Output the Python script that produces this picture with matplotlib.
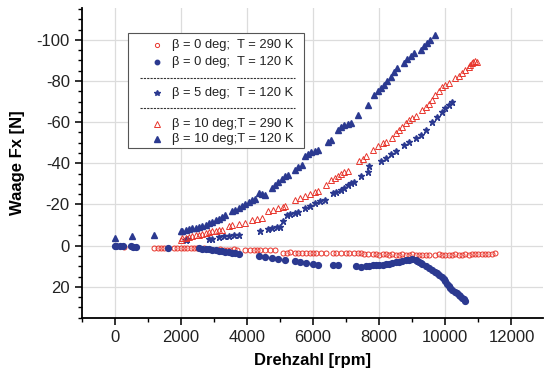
import matplotlib
matplotlib.use("Agg")
import matplotlib.pyplot as plt
from matplotlib.patches import Rectangle
from matplotlib.ticker import MultipleLocator

plt.rcParams['font.family'] = ['Liberation Sans', 'DejaVu Sans']
plt.rcParams['axes.unicode_minus'] = False

# beta = 0 deg, T = 290 K (open red circles)
rpm_b0_290 = [280, 1200, 1300, 1400, 1500, 1800, 1900, 2000, 2100, 2200, 2300, 2400, 2500, 2700,
              3200, 3300, 3400, 3500, 3600, 3700, 3950, 4100, 4200, 4300, 4400, 4550, 4700, 4850,
              5100, 5200, 5300, 5450, 5550, 5650, 5800, 5900, 6000, 6100, 6250, 6400, 6600, 6700,
              6850, 7000, 7100, 7250, 7350, 7450, 7550, 7650, 7800, 7900, 8000, 8100, 8200, 8300,
              8400, 8500, 8600, 8700, 8800, 8900, 9000, 9100, 9200, 9300, 9400, 9500, 9700, 9800,
              9900, 10000, 10100, 10200, 10300, 10400, 10500, 10600, 10700, 10800, 10900, 11000,
              11100, 11200, 11300, 11400, 11500]
fx_b0_290 = [0.5, 1.0, 1.1, 1.0, 1.2, 1.0, 1.1, 1.0, 1.2, 1.1, 1.0, 1.2, 1.1, 1.3,
             1.8, 2.0, 1.9, 2.0, 1.8, 2.1, 2.0, 1.9, 2.1, 2.0, 2.2, 2.0, 2.1, 2.2,
             3.4, 3.5, 3.3, 3.6, 3.5, 3.7, 3.6, 3.5, 3.7, 3.6, 3.8, 3.6, 3.5, 3.7,
             3.6, 3.5, 3.4, 3.6, 3.5, 3.7, 4.0, 4.2, 4.1, 4.2, 4.3, 4.2, 4.1, 4.3,
             4.2, 4.4, 4.3, 4.2, 4.4, 4.3, 4.2, 4.4, 4.3, 4.5, 4.4, 4.3, 4.4, 4.2,
             4.4, 4.3, 4.5, 4.4, 4.2, 4.3, 4.4, 4.2, 4.3, 4.1, 4.2, 4.0,
             4.1, 4.0, 3.9, 4.0, 3.8]

# beta = 0 deg, T = 120 K (filled blue circles)
rpm_b0_120 = [0, 50, 150, 250, 500, 550, 650, 1600, 2550, 2650, 2750, 2850, 2950, 3050, 3150,
              3250, 3350, 3450, 3550, 3650, 3750, 4350, 4550, 4750, 4950, 5150, 5450, 5600, 5800,
              6000, 6150, 6600, 6750, 7300, 7450, 7600, 7700, 7800, 7900, 8000, 8100, 8200, 8300,
              8400, 8500, 8600, 8700, 8800, 8900, 9000, 9100, 9150, 9200, 9250, 9300, 9400, 9500,
              9600, 9700, 9750, 9800, 9900, 9950, 10000, 10050, 10100, 10150, 10200, 10300, 10350,
              10400, 10450, 10500, 10550, 10600]
fx_b0_120 = [0.0, 0.0, 0.2, 0.3, 0.0, 0.5, 0.5, 1.0, 1.2, 1.4, 1.6, 1.8, 2.0, 2.2, 2.4,
             2.6, 2.9, 3.1, 3.4, 3.7, 3.9, 5.2, 5.6, 6.0, 6.4, 6.8, 7.6, 8.0, 8.5,
             8.8, 9.2, 9.2, 9.5, 10.0, 10.2, 10.0, 9.8, 9.6, 9.5, 9.4, 9.3, 9.0, 8.7,
             8.4, 8.1, 7.7, 7.3, 7.0, 6.8, 6.6, 6.9, 7.3, 7.8, 8.3, 8.8, 9.8, 10.7,
             11.8, 13.0, 13.5, 14.2, 15.2, 16.2, 17.4, 18.6, 19.6, 20.5, 21.6, 22.6, 23.2,
             24.0, 24.6, 25.2, 26.0, 26.8]

# beta = 5 deg, T = 120 K (blue stars)
rpm_b5_120 = [2150, 2200, 2850, 2950, 3150, 3300, 3450, 3600, 3750, 4400, 4650, 4750, 4900, 5000,
              5100, 5200, 5300, 5450, 5550, 5750, 5900, 6050, 6200, 6350, 6600, 6700, 6850, 6950,
              7050, 7150, 7250, 7450, 7650, 7700, 8050, 8200, 8350, 8500, 8750, 8900, 9100, 9250,
              9400, 9600, 9750, 9900, 10000, 10100, 10200]
fx_b5_120 = [-2.9, -3.2, -3.2, -3.4, -4.2, -4.5, -4.8, -5.0, -5.3, -7.3, -8.3, -8.6, -8.9, -9.2,
             -11.8, -15.0, -15.5, -16.0, -16.3, -18.3, -19.5, -20.8, -21.5, -22.3, -25.6, -26.2, -27.0, -28.0,
             -29.3, -30.2, -31.0, -33.6, -36.0, -38.5, -41.0, -42.8, -44.5, -46.0, -49.0, -50.6, -52.3, -54.0,
             -56.3, -60.3, -62.5, -65.0, -66.8, -68.5, -70.0]

# beta = 10 deg, T = 290 K (open red triangles)
rpm_b10_290 = [2000, 2050, 2150, 2250, 2350, 2450, 2550, 2650, 2750, 2850, 2950, 3050, 3150, 3250,
               3450, 3550, 3750, 3950, 4150, 4300, 4450, 4650, 4800, 4950, 5100, 5150, 5450, 5600,
               5750, 5900, 6050, 6150, 6400, 6550, 6650, 6750, 6850, 6950, 7050, 7400, 7500, 7600,
               7800, 7950, 8100, 8200, 8400, 8500, 8600, 8700, 8800, 8900, 9000, 9100, 9300, 9400,
               9500, 9600, 9700, 9800, 9900, 10000, 10100, 10300, 10400, 10500, 10600, 10700, 10750,
               10800, 10850, 10900, 10950]
fx_b10_290 = [-2.9, -3.5, -3.9, -4.3, -4.7, -5.0, -5.4, -5.8, -6.2, -6.6, -7.0, -7.3, -7.6, -7.8,
              -9.4, -10.0, -10.6, -11.0, -12.6, -13.0, -13.4, -16.7, -17.5, -18.3, -19.0, -19.3, -22.3, -23.2,
              -24.2, -25.3, -26.0, -26.4, -29.6, -32.0, -33.0, -34.0, -35.0, -36.0, -36.5, -41.0, -42.2, -43.4,
              -46.6, -48.5, -50.0, -50.6, -52.5, -54.7, -56.2, -57.8, -59.5, -61.0, -62.0, -62.8, -66.0, -67.5,
              -69.0, -70.9, -73.3, -75.0, -77.0, -78.0, -79.0, -81.4, -82.6, -84.0, -85.4, -87.0, -88.0,
              -88.7, -89.2, -89.5, -89.0]

# beta = 10 deg, T = 120 K (filled blue triangles)
rpm_b10_120 = [0, 530, 1190, 2000, 2050, 2150, 2250, 2350, 2450, 2550, 2650, 2750, 2850, 2950,
               3050, 3150, 3250, 3350, 3550, 3650, 3750, 3850, 3950, 4050, 4150, 4250, 4350, 4450,
               4550, 4750, 4850, 4950, 5050, 5150, 5250, 5450, 5550, 5650, 5750, 5850, 5950, 6050,
               6150, 6450, 6550, 6750, 6850, 6950, 7050, 7150, 7350, 7650, 7850, 7950, 8050, 8150,
               8250, 8350, 8450, 8550, 8750, 8850, 8950, 9050, 9250, 9350, 9450, 9550, 9700]
fx_b10_120 = [-3.7, -4.5, -5.3, -7.0, -7.3, -7.6, -8.0, -8.4, -8.8, -9.2, -9.6, -10.0, -10.8, -11.5,
              -12.3, -13.0, -13.8, -15.0, -16.7, -17.5, -18.5, -19.5, -20.3, -21.2, -22.0, -22.8, -25.6, -25.0,
              -24.8, -28.0, -29.5, -31.0, -32.3, -33.6, -34.5, -36.9, -38.0, -39.3, -43.4, -44.5, -45.5, -46.0,
              -46.6, -50.6, -51.5, -56.3, -57.5, -58.5, -59.0, -59.6, -63.6, -68.4, -73.3, -75.0, -76.5, -78.2,
              -79.8, -82.0, -84.5, -86.3, -88.7, -90.5, -92.0, -93.5, -95.0, -97.0, -98.5, -100.0, -102.4]

labels = ["\u03b2 = 0 deg;  T = 290 K",
          "\u03b2 = 0 deg;  T = 120 K",
          "\u03b2 = 5 deg;  T = 120 K",
          "\u03b2 = 10 deg;T = 290 K",
          "\u03b2 = 10 deg;T = 120 K"]

blue = '#2b3990'
red = '#e8352c'

fig = plt.figure(figsize=(5.44, 3.76), dpi=100)
ax = fig.add_axes([0.150, 0.155, 0.848, 0.824])

ax.plot(rpm_b0_290, fx_b0_290, ls='', marker='o', ms=3.6, mfc='none', mec=red, mew=0.7)
ax.plot(rpm_b0_120, fx_b0_120, ls='', marker='o', ms=4.2, color=blue)
ax.plot(rpm_b5_120, fx_b5_120, ls='', marker='*', ms=5.0, color=blue)
ax.plot(rpm_b10_290, fx_b10_290, ls='', marker='^', ms=4.4, mfc='none', mec=red, mew=0.7)
ax.plot(rpm_b10_120, fx_b10_120, ls='', marker='^', ms=4.8, color=blue)

ax.set_xlim(-1000, 12950)
ax.set_ylim(35, -115.5)
ax.xaxis.set_major_locator(MultipleLocator(2000))
ax.xaxis.set_minor_locator(MultipleLocator(1000))
ax.yaxis.set_minor_locator(MultipleLocator(5))
ax.set_yticks([-100, -80, -60, -40, -20, 0, 20])
ax.grid(True, which='major', color='#dcdcdc', linewidth=0.9)
ax.set_axisbelow(True)
for s in ['top', 'right']:
    ax.spines[s].set_visible(False)
for s in ['left', 'bottom']:
    ax.spines[s].set_linewidth(1.3)
ax.tick_params(which='major', direction='out', length=5, width=1.3, labelsize=12, colors='#222222')
ax.tick_params(which='minor', direction='out', length=3, width=1.0)
ax.set_xlabel('Drehzahl [rpm]', fontsize=12, fontweight='bold', labelpad=6)
ax.set_ylabel('Waage Fx [N]', fontsize=12, fontweight='bold', labelpad=8)

# hand drawn legend box with dashed separators (axes fraction coordinates)
def fx(px):
    return (px - 81.6) / (544 * 0.848)

def fy(py):
    return (376 * (1 - 0.155) - py) / (376 * 0.824)

ax.add_patch(Rectangle((fx(128), fy(148)), fx(304) - fx(128), fy(33) - fy(148),
                       transform=ax.transAxes, facecolor='white', edgecolor='#555555', lw=0.8, zorder=5))
rows = [45, 62, 93, 124, 139]
styles = [dict(marker='o', ms=3.0, mfc='none', mec=red, mew=0.7),
          dict(marker='o', ms=3.2, color=blue),
          dict(marker='*', ms=4.2, color=blue),
          dict(marker='^', ms=3.8, mfc='none', mec=red, mew=0.7),
          dict(marker='^', ms=4.0, color=blue)]
for r, st, lab in zip(rows, styles, labels):
    ax.plot([fx(157)], [fy(r)], ls='', transform=ax.transAxes, zorder=6, clip_on=False, **st)
    ax.text(fx(172), fy(r), lab, transform=ax.transAxes, fontsize=9.3, va='center', ha='left',
            color='#222222', zorder=6)
for sy in [78, 108]:
    ax.plot([fx(140), fx(295)], [fy(sy), fy(sy)], transform=ax.transAxes, color='#333333',
            ls=(0, (2, 1)), lw=0.8, zorder=6)

plt.savefig('out.png', dpi=100)
